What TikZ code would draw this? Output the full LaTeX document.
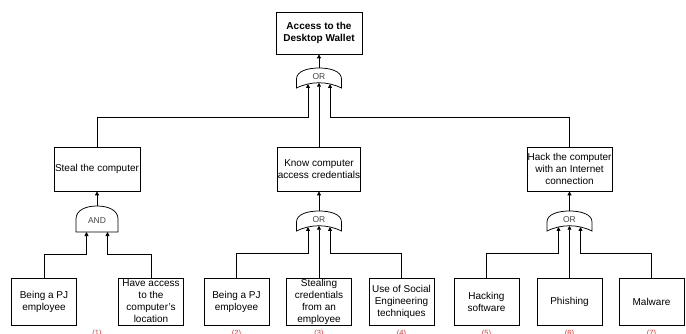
\documentclass[tikz,border=0pt]{standalone}
\usepackage{fontspec}
\setmainfont{Liberation Sans}
\usetikzlibrary{arrows.meta}

\definecolor{gatetxt}{HTML}{444444}
\definecolor{numred}{HTML}{E03030}

\tikzset{
  event/.style={draw, line width=0.75pt, align=center, inner sep=0pt,
    font=\fontsize{10}{12}\selectfont, minimum height=44pt},
  leaf/.style={event, minimum width=65pt, minimum height=47pt},
  gatetext/.style={text=gatetxt, font=\fontsize{8.5}{10}\selectfont, inner sep=0pt},
  num/.style={text=numred, font=\fontsize{7.5}{9}\selectfont, anchor=north, inner sep=0pt},
  conn/.style={line width=0.75pt, -{Triangle[length=4pt,width=4pt]}},
}

% OR gate: name, centre x, top y
\newcommand{\orgate}[3]{%
  \draw[line width=0.75pt] (#2-22.5,#3+20) -- (#2-22.5,#3+11)
    .. controls (#2-22.5,#3+3) and (#2-11,#3) .. (#2,#3)
    .. controls (#2+11,#3) and (#2+22.5,#3+3) .. (#2+22.5,#3+11)
    -- (#2+22.5,#3+20)
    .. controls (#2+8,#3+13) and (#2-8,#3+13) .. cycle;
  \node[gatetext] (#1) at (#2,#3+9) {OR};
  \coordinate (#1-out) at (#2,#3);
  \coordinate (#1-a) at (#2-11,#3+16);
  \coordinate (#1-b) at (#2,#3+14.75);
  \coordinate (#1-c) at (#2+11,#3+16);
}

% AND gate: name, centre x, top y
\newcommand{\andgate}[3]{%
  \draw[line width=0.75pt] (#2-21,#3+26) -- (#2-21,#3+13)
    .. controls (#2-21,#3+4) and (#2-11,#3) .. (#2,#3)
    .. controls (#2+11,#3) and (#2+21,#3+4) .. (#2+21,#3+13)
    -- (#2+21,#3+26) -- cycle;
  \node[gatetext] (#1) at (#2,#3+15) {AND};
  \coordinate (#1-out) at (#2,#3);
  \coordinate (#1-a) at (#2-10.5,#3+26);
  \coordinate (#1-b) at (#2+10.5,#3+26);
}

\begin{document}
\begin{tikzpicture}[x=1pt, y=-1pt]
  \useasboundingbox (0,0) rectangle (686,334);

  % top event
  \node[event, minimum width=86pt, minimum height=42pt, font=\fontsize{10}{12}\selectfont\bfseries]
    (top) at (319,33) {Access to the\\Desktop Wallet};
  \orgate{gor0}{319}{68}

  % intermediate events
  \node[event, minimum width=86pt] (steal) at (97,169) {Steal the computer};
  \node[event, minimum width=83pt] (know) at (319,169) {Know computer\\access credentials};
  \node[event, minimum width=85pt] (hack) at (569.5,169) {Hack the computer\\with an Internet\\connection};

  \andgate{gand1}{97}{206}
  \orgate{gor2}{319}{211}
  \orgate{gor3}{569.5}{211}

  % basic events
  \node[leaf] (pj1) at (44,301.5) {Being a PJ\\employee};
  \node[leaf] (access) at (151,301.5) {Have access\\to the\\computer's\\location};
  \node[leaf] (pj2) at (236.5,301.5) {Being a PJ\\employee};
  \node[leaf] (stealcred) at (319,301.5) {Stealing\\credentials\\from an\\employee};
  \node[leaf] (social) at (401.5,301.5) {Use of Social\\Engineering\\techniques};
  \node[leaf] (hacksw) at (486.5,301.5) {Hacking\\software};
  \node[leaf] (phishing) at (569.5,301.5) {Phishing};
  \node[leaf] (malware) at (651.5,301.5) {Malware};

  \node[num] (n1) at (97,329.5) {(1)};
  \node[num] (n2) at (236.5,329.5) {(2)};
  \node[num] (n3) at (319,329.5) {(3)};
  \node[num] (n4) at (401.5,329.5) {(4)};
  \node[num] (n5) at (486.5,329.5) {(5)};
  \node[num] (n6) at (569.5,329.5) {(6)};
  \node[num] (n7) at (651.5,329.5) {(7)};

  % gate outputs
  \draw[conn] (gor0-out) -- (top.south);
  \draw[conn] (gand1-out) -- (steal.south);
  \draw[conn] (gor2-out) -- (know.south);
  \draw[conn] (gor3-out) -- (hack.south);

  % inputs of the top gate
  \draw[conn] (steal.north) -- ++(0,-29) -| (gor0-a);
  \draw[conn] (know.north) -- (gor0-b);
  \draw[conn] (hack.north) -- ++(0,-29) -| (gor0-c);

  % inputs of the lower gates
  \draw[conn] (pj1.north) -- ++(0,-23) -| (gand1-a);
  \draw[conn] (access.north) -- ++(0,-23) -| (gand1-b);
  \draw[conn] (pj2.north) -- ++(0,-24) -| (gor2-a);
  \draw[conn] (stealcred.north) -- (gor2-b);
  \draw[conn] (social.north) -- ++(0,-24) -| (gor2-c);
  \draw[conn] (hacksw.north) -- ++(0,-24) -| (gor3-a);
  \draw[conn] (phishing.north) -- (gor3-b);
  \draw[conn] (malware.north) -- ++(0,-24) -| (gor3-c);
\end{tikzpicture}
\end{document}
